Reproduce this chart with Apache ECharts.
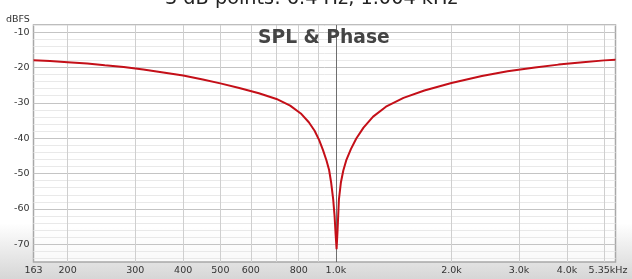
<!DOCTYPE html>
<html>
<head>
<meta charset="utf-8">
<script src="https://cdn.jsdelivr.net/npm/echarts@6/dist/echarts.min.js"></script>
<style>
html,body{margin:0;padding:0;}
body{width:632px;height:279px;background:linear-gradient(to bottom,#ffffff 0%,#ffffff 80%,#d6d6d6 100%);}
#c{width:632px;height:279px;}
</style>
</head>
<body>
<div id="c"></div>
<script>
// Frequencies (Hz) of the sampled response curve
const freqs = [163, 180, 200, 225, 250, 280, 315, 355, 400, 450, 500, 560, 630, 700, 760, 810, 850, 880, 905, 925, 945, 960, 972, 984, 992, 998, 1004, 1010, 1018, 1030, 1045, 1065, 1094, 1130, 1180, 1250, 1350, 1500, 1700, 2000, 2400, 2800, 3300, 3800, 4400, 5000, 5350];
// SPL values (dBFS)
const spl = [-18.0, -18.2, -18.5, -18.9, -19.4, -19.9, -20.6, -21.4, -22.3, -23.4, -24.5, -25.8, -27.3, -28.9, -30.8, -33.0, -35.5, -37.9, -40.6, -43.3, -46.3, -49.0, -52.6, -57.4, -62.0, -67.0, -71.4, -66.0, -57.4, -52.6, -49.2, -46.1, -43.1, -40.1, -37.0, -33.9, -31.1, -28.6, -26.5, -24.4, -22.4, -21.1, -20.0, -19.2, -18.5, -18.0, -17.8];
// X tick labels
const xLabelFreqs = [163, 200, 300, 400, 500, 600, 800, 1000, 2000, 3000, 4000, 5350];
const xLabelTexts = ['163', '200', '300', '400', '500', '600', '800', '1.0k', '2.0k', '3.0k', '4.0k', '5.35kHz'];
// X grid lines
const xGridFreqs = [200, 300, 400, 500, 600, 700, 800, 900, 1000, 2000, 3000, 4000, 5000];
// Y tick labels
const yLabelValues = [-70, -60, -50, -40, -30, -20, -10];
const titleText = '-3 dB points: 6.4 Hz, 1.004 kHz';
const plotTitle = 'SPL & Phase';
const yUnit = 'dBFS';

const FONT = 'DejaVu Sans';
const chart = echarts.init(document.getElementById('c'), null, {renderer: 'canvas'});
const data = freqs.map((f, i) => [Math.log10(f), spl[i]]);
const minor = '#e9e9e9', major = '#c4c4c4', none = 'rgba(0,0,0,0)';
const xGridColors = xGridFreqs.map(f => f === 1000 ? '#6e6e6e' : '#cfcfcf');

chart.setOption({
  animation: false,
  title: [{
    text: titleText, left: 158, top: -11, padding: 0,
    textStyle: {fontFamily: FONT, fontSize: 19.3, fontWeight: 'normal', color: '#222'}
  }, {
    text: plotTitle, left: 258, top: 29, padding: 0,
    textStyle: {fontFamily: FONT, fontSize: 18.7, fontWeight: 'bold', color: '#444'}
  }],
  graphic: [{
    type: 'text', left: 6, top: 15,
    style: {text: yUnit, fontFamily: FONT, fontSize: 9.5, fill: '#333'}
  }],
  grid: {
    left: 33.5, right: 16.5, top: 25, bottom: 17,
    show: true, borderColor: '#a8a8a8', borderWidth: 1.5,
    backgroundColor: 'rgba(255,255,255,0.8)'
  },
  xAxis: {
    type: 'value',
    min: Math.log10(163), max: Math.log10(5350),
    axisLine: {show: false},
    axisTick: {show: false, customValues: xGridFreqs.map(f => Math.log10(f))},
    splitLine: {show: true, lineStyle: {color: xGridColors, width: 1}},
    axisLabel: {
      customValues: xLabelFreqs.map(f => Math.log10(f)),
      margin: 4, fontFamily: FONT, fontSize: 9.5, color: '#333',
      formatter: function (v) {
        for (let i = 0; i < xLabelFreqs.length; i++) {
          if (Math.abs(Math.log10(xLabelFreqs[i]) - v) < 1e-9) {
            return i === xLabelFreqs.length - 1 ? '{last|' + xLabelTexts[i] + '}' : xLabelTexts[i];
          }
        }
        return '';
      },
      rich: {last: {fontFamily: FONT, fontSize: 9.5, color: '#333', padding: [0, 15, 0, 0]}}
    }
  },
  yAxis: {
    type: 'value', min: -75, max: -8, interval: 1,
    axisLine: {show: false},
    axisTick: {show: false},
    splitLine: {show: true, lineStyle: {color: [none, minor, none, minor, none, major, none, minor, none, minor], width: 1}},
    axisLabel: {
      customValues: yLabelValues,
      margin: 4, fontFamily: FONT, fontSize: 9.5, color: '#333'
    }
  },
  series: [{
    type: 'line', data: data, symbol: 'none', smooth: false,
    lineStyle: {color: '#c40f18', width: 2},
    z: 5
  }]
});
</script>
</body>
</html>
